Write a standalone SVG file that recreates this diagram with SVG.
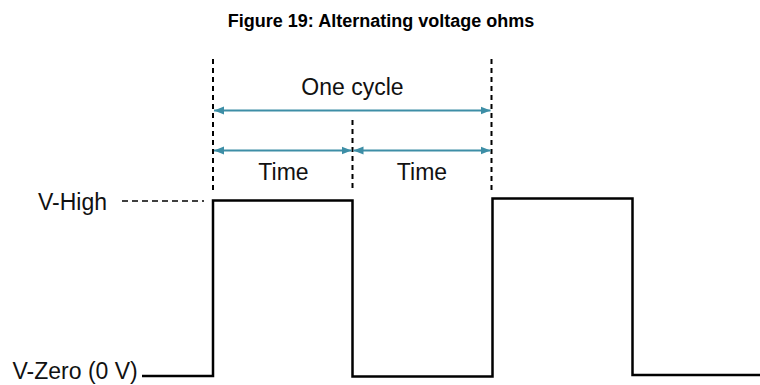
<svg xmlns="http://www.w3.org/2000/svg" width="760" height="385" viewBox="0 0 760 385">
  <style>
    .title { font-family: "Liberation Sans", Arial, sans-serif; font-size: 18px; font-weight: bold; fill: #000; }
    .label { font-family: "Liberation Sans", Arial, sans-serif; font-size: 23px; fill: #111; }
    .guide { stroke: #000; stroke-width: 2; stroke-dasharray: 5 4; fill: none; }
    .level { stroke: #000; stroke-width: 1.5; stroke-dasharray: 6 4; fill: none; }
    .span { stroke: #3d8ea6; stroke-width: 2; fill: none; marker-start: url(#tipStart); marker-end: url(#tipEnd); }
    .wave { stroke: #000; stroke-width: 2.5; fill: none; stroke-linejoin: miter; }
  </style>
  <defs>
    <marker id="tipEnd" viewBox="0 0 10 10" refX="10" refY="5" markerWidth="10" markerHeight="10" markerUnits="userSpaceOnUse" orient="auto">
      <path d="M0,1 L10,5 L0,9 Z" fill="#3d8ea6"/>
    </marker>
    <marker id="tipStart" viewBox="0 0 10 10" refX="0" refY="5" markerWidth="10" markerHeight="10" markerUnits="userSpaceOnUse" orient="auto">
      <path d="M10,1 L0,5 L10,9 Z" fill="#3d8ea6"/>
    </marker>
  </defs>

  <rect width="760" height="385" fill="#fff"/>

  <text class="title" x="381" y="27" text-anchor="middle">Figure 19: Alternating voltage ohms</text>

  <!-- period guides -->
  <g id="guides">
    <line class="guide" x1="213" y1="59" x2="213" y2="192"/>
    <line class="guide" x1="352.5" y1="120" x2="352.5" y2="192"/>
    <line class="guide" x1="491.5" y1="59" x2="491.5" y2="192"/>
    <line class="level" x1="122" y1="201" x2="204" y2="201"/>
  </g>

  <!-- span arrows -->
  <g id="connectors">
    <line class="span" x1="214" y1="110.5" x2="490.5" y2="110.5"/>
    <line class="span" x1="214" y1="150.5" x2="351.5" y2="150.5"/>
    <line class="span" x1="353.5" y1="150.5" x2="490.5" y2="150.5"/>
  </g>

  <g id="label-cycle"><text class="label" x="352.5" y="95" text-anchor="middle">One cycle</text></g>
  <g id="label-time-1"><text class="label" x="283.5" y="180" text-anchor="middle">Time</text></g>
  <g id="label-time-2"><text class="label" x="422" y="180" text-anchor="middle">Time</text></g>
  <g id="label-high"><text class="label" x="38" y="210">V-High</text></g>
  <g id="label-zero"><text class="label" x="12.5" y="379">V-Zero (0 V)</text></g>

  <!-- square wave -->
  <g id="waveform">
    <path class="wave" d="M142,376 H213 V200.5 H352.5 V376.5 H492.5 V198.5 H632.5 V375 H760"/>
  </g>
</svg>
